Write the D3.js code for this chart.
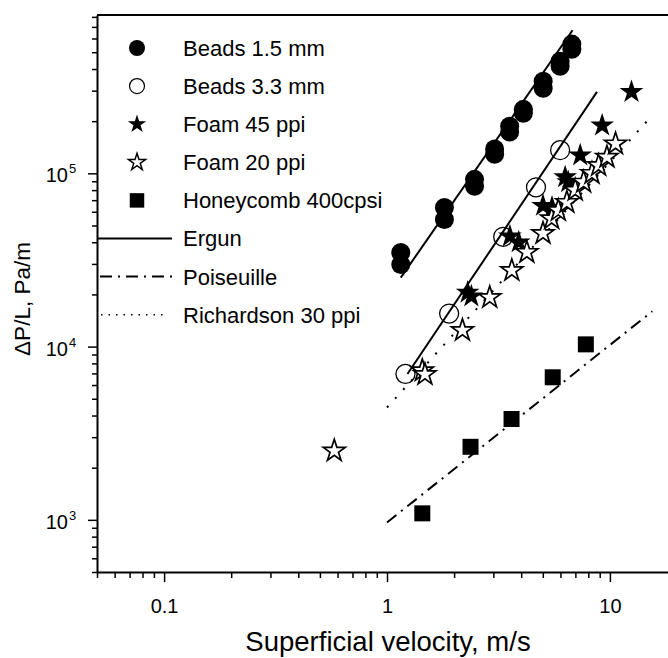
<!DOCTYPE html>
<html>
    <head>
        <title> Pressure drop vs superficial velocity </title>
        <script src="https://d3js.org/d3.v7.min.js"></script>
        <style>
            body { margin: 0; background: white; }
        </style>
    </head>

    <body>

        <div id="chart"></div>

        <script type="text/javascript">

            // points, [velocity m/s, dP/L Pa/m]
            var beads15 = [[1.153,3.49e4],[1.153,2.98e4],[1.81,6.35e4],[1.81,5.42e4],[2.47,9.23e4],[2.47,8.41e4],
                           [3.04,1.38e5],[3.04,1.29e5],[3.55,1.87e5],[3.55,1.73e5],[4.09,2.34e5],[4.09,2.22e5],
                           [5.02,3.4e5],[5.02,3.1e5],[5.98,4.43e5],[5.98,4.15e5],[6.75,5.57e5],[6.75,5.2e5]];
            var beads33 = [[1.21,6.95e3],[1.9,1.55e4],[3.32,4.3e4],[4.66,8.3e4],[5.98,1.36e5]];
            var foam45 = [[2.30,2.05e4],[2.39,1.95e4],[3.56,4.33e4],[3.90,4.0e4],[5.01,6.5e4],[5.5,6.35e4],
                          [6.3,9.5e4],[6.5,8.9e4],[7.36,1.27e5],[9.23,1.89e5],[12.5,2.95e5]];
            var foam20 = [[0.58,2.5e3],[1.44,7.26e3],[1.48,6.9e3],[2.18,1.24e4],[2.89,1.92e4],[3.63,2.75e4],
                          [4.24,3.5e4],[5.01,4.5e4],[5.48,5.47e4],[5.87,6.1e4],[6.41,6.8e4],[6.99,8.0e4],
                          [7.62,8.9e4],[8.31,1.0e5],[8.9,1.11e5],[9.7,1.24e5],[10.6,1.48e5]];
            var honeycomb = [[1.44,1.09e3],[2.37,2.64e3],[3.62,3.82e3],[5.54,6.65e3],[7.8,1.03e4]];

            // model lines (end points)
            var ergun15 = [[1.153,2.5e4],[6.8,6.7e5]];
            var ergun33 = [[1.235,6.95e3],[8.75,2.95e5]];
            var poiseuille = [[1,965],[15.5,1.6e4]];
            var richardson = [[1,4.45e3],[15.3,2.12e5]];

            var legendLabels = ["Beads 1.5 mm","Beads 3.3 mm","Foam 45 ppi","Foam 20 ppi","Honeycomb 400cpsi",
                                "Ergun","Poiseuille","Richardson 30 ppi"];

            var xTickValues = [0.1, 1, 10];
            var yTickExponents = [3, 4, 5];

            var W = 668, H = 658;
            var font = "'Liberation Sans', Arial, sans-serif";

            var svg = d3.select("#chart")
                .append("svg")
                .attr("width", W)
                .attr("height", H)
                .style("font-family", font);

            var x = d3.scaleLog()
                .domain([0.05, 20])
                .range([97, 677]);

            var y = d3.scaleLog()
                .domain([500, 8.2e5])
                .range([572, 15]);

            var line = d3.line()
                .x(function(d) { return x(d[0]) })
                .y(function(d) { return y(d[1]) });

            // minor ticks 2..9 per decade
            var xMinor = [], yMinor = [];
            [0.01, 0.1, 1, 10].forEach(function(b) {
                for (var k = 2; k <= 9; k++) {
                    var v = b * k;
                    if (v >= 0.05 && v <= 20) xMinor.push(v);
                }
            });
            [100, 1000, 10000, 100000].forEach(function(b) {
                for (var k = 2; k <= 9; k++) {
                    var v = b * k;
                    if (v >= 500 && v <= 8.2e5) yMinor.push(v);
                }
            });

            svg.append("g")
                .attr("transform", "translate(0," + y.range()[0] + ")")
                .call(d3.axisBottom(x).tickValues(xMinor).tickSize(6).tickFormat(""))
                .call(function(g) { g.select(".domain").remove() })
                .selectAll("line").attr("stroke-width", 1.5);

            svg.append("g")
                .attr("transform", "translate(0," + y.range()[0] + ")")
                .call(d3.axisBottom(x).tickValues(xTickValues).tickSize(10).tickSizeOuter(0)
                    .tickFormat(function(d) { return d3.format("~g")(d) }))
                .call(function(g) {
                    g.select(".domain").attr("stroke-width", 2);
                    g.selectAll("line").attr("stroke-width", 1.5);
                    g.selectAll("text")
                        .attr("y", 41)
                        .attr("dy", 0)
                        .style("font-size", "20px")
                        .style("font-family", font)
                        .attr("fill", "black");
                });

            svg.append("g")
                .attr("transform", "translate(" + x.range()[0] + ",0)")
                .call(d3.axisLeft(y).tickValues(yMinor).tickSize(5).tickFormat(""))
                .call(function(g) { g.select(".domain").remove() })
                .selectAll("line").attr("stroke-width", 1.5);

            var yMajor = yTickExponents.map(function(e) { return Math.pow(10, e) });
            svg.append("g")
                .attr("transform", "translate(" + x.range()[0] + ",0)")
                .call(d3.axisLeft(y).tickValues(yMajor).tickSize(9).tickSizeOuter(0).tickFormat(""))
                .call(function(g) {
                    g.select(".domain").attr("stroke-width", 2);
                    g.selectAll("line").attr("stroke-width", 1.5);
                });

            // y tick labels 10^n
            svg.append("g").selectAll("text")
                .data(yTickExponents)
                .enter().append("text")
                .attr("x", 68)
                .attr("y", function(d) { return y(Math.pow(10, d)) + 9 })
                .attr("text-anchor", "end")
                .style("font-size", "20px")
                .text("10");
            svg.append("g").selectAll("text")
                .data(yTickExponents)
                .enter().append("text")
                .attr("x", 69)
                .attr("y", function(d) { return y(Math.pow(10, d)) })
                .style("font-size", "13px")
                .text(function(d) { return d });

            // top frame line
            svg.append("line")
                .attr("x1", x.range()[0]).attr("x2", x.range()[1])
                .attr("y1", y.range()[1]).attr("y2", y.range()[1])
                .attr("stroke", "black")
                .attr("stroke-width", 2);

            // axis titles
            svg.append("text")
                .attr("x", 388)
                .attr("y", 651)
                .attr("text-anchor", "middle")
                .style("font-size", "27.5px")
                .text("Superficial velocity, m/s");

            svg.append("text")
                .attr("text-anchor", "middle")
                .attr("transform", "translate(30,299) rotate(-90)")
                .style("font-size", "22.5px")
                .text("\u0394P/L, Pa/m");

            // model lines
            svg.append("path").datum(ergun15)
                .attr("fill", "none").attr("stroke", "black").attr("stroke-width", 2)
                .attr("d", line);
            svg.append("path").datum(ergun33)
                .attr("fill", "none").attr("stroke", "black").attr("stroke-width", 2)
                .attr("d", line);
            svg.append("path").datum(poiseuille)
                .attr("fill", "none").attr("stroke", "black").attr("stroke-width", 2)
                .attr("stroke-dasharray", "12,6,2,6")
                .attr("d", line);
            svg.append("path").datum(richardson)
                .attr("fill", "none").attr("stroke", "black").attr("stroke-width", 2)
                .attr("stroke-dasharray", "2,10")
                .attr("d", line);

            var star = function(size) { return d3.symbol().type(d3.symbolStar).size(size)() };
            var square = function(size) { return d3.symbol().type(d3.symbolSquare).size(size)() };

            // markers
            svg.append("g").selectAll("circle")
                .data(beads15).enter().append("circle")
                .attr("cx", function(d) { return x(d[0]) })
                .attr("cy", function(d) { return y(d[1]) })
                .attr("r", 9.5)
                .attr("fill", "black");

            svg.append("g").selectAll("circle")
                .data(beads33).enter().append("circle")
                .attr("cx", function(d) { return x(d[0]) })
                .attr("cy", function(d) { return y(d[1]) })
                .attr("r", 9.5)
                .attr("fill", "none")
                .attr("stroke", "black")
                .attr("stroke-width", 1.3);

            svg.append("g").selectAll("path")
                .data(foam45).enter().append("path")
                .attr("transform", function(d) { return "translate(" + x(d[0]) + "," + y(d[1]) + ")" })
                .attr("d", star(175))
                .attr("fill", "black");

            svg.append("g").selectAll("path")
                .data(foam20).enter().append("path")
                .attr("transform", function(d) { return "translate(" + x(d[0]) + "," + y(d[1]) + ")" })
                .attr("d", star(150))
                .attr("fill", "white")
                .attr("stroke", "black")
                .attr("stroke-width", 1.7);

            svg.append("g").selectAll("path")
                .data(honeycomb).enter().append("path")
                .attr("transform", function(d) { return "translate(" + x(d[0]) + "," + y(d[1]) + ")" })
                .attr("d", square(256))
                .attr("fill", "black");

            // legend
            var legY = function(i) { return 48 + i * 38.1 };
            var symX = 137;

            svg.append("circle").attr("cx", symX).attr("cy", legY(0)).attr("r", 8).attr("fill", "black");
            svg.append("circle").attr("cx", symX).attr("cy", legY(1)).attr("r", 7.5)
                .attr("fill", "none").attr("stroke", "black").attr("stroke-width", 1.2);
            svg.append("path").attr("transform", "translate(" + symX + "," + legY(2) + ")")
                .attr("d", star(105)).attr("fill", "black");
            svg.append("path").attr("transform", "translate(" + symX + "," + legY(3) + ")")
                .attr("d", star(90)).attr("fill", "white").attr("stroke", "black").attr("stroke-width", 1.5);
            svg.append("path").attr("transform", "translate(" + symX + "," + legY(4) + ")")
                .attr("d", square(210)).attr("fill", "black");

            svg.append("line").attr("x1", 97).attr("x2", 172).attr("y1", legY(5)).attr("y2", legY(5))
                .attr("stroke", "black").attr("stroke-width", 2);
            svg.append("line").attr("x1", 100).attr("x2", 172).attr("y1", legY(6)).attr("y2", legY(6))
                .attr("stroke", "black").attr("stroke-width", 2).attr("stroke-dasharray", "12,6,2,6");
            svg.append("line").attr("x1", 101).attr("x2", 165).attr("y1", legY(7)).attr("y2", legY(7))
                .attr("stroke", "black").attr("stroke-width", 1.5).attr("stroke-dasharray", "1.5,6");

            svg.append("g").selectAll("text")
                .data(legendLabels).enter().append("text")
                .attr("x", 183)
                .attr("y", function(d, i) { return legY(i) })
                .attr("dy", "0.36em")
                .style("font-size", "22px")
                .text(function(d) { return d });

        </script>
    </body>
</html>
